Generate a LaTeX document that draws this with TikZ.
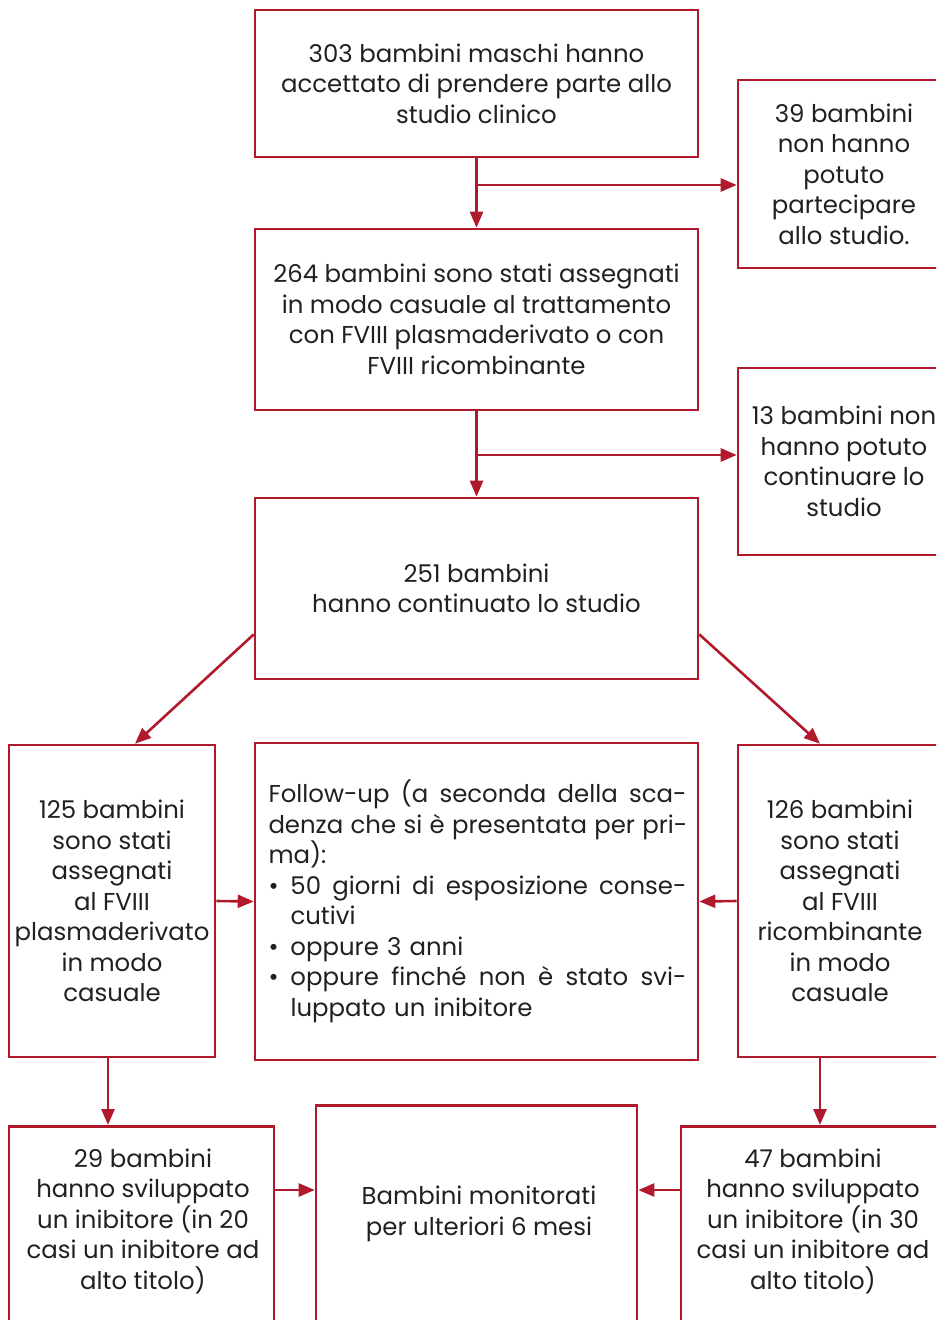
\documentclass[tikz,border=0pt]{standalone}
\usepackage{fontspec}
\setmainfont{Poppins}
\usetikzlibrary{arrows.meta,calc}
\definecolor{bordo}{HTML}{B11A2C}
\definecolor{testo}{HTML}{231F20}
% one justified line of the given width
\newcommand{\riga}[2]{\makebox[#1][s]{\spaceskip=0.3em plus 1fil\relax #2}}

\begin{document}
\begin{tikzpicture}[x=0.5pt,y=-0.5pt,line width=1.3pt,
  font=\fontsize{12.2pt}{15.25pt}\selectfont,text=testo,
  box/.style={draw=bordo,inner sep=0pt,align=center},
  txt/.style={inner sep=0pt,align=center},
  arr/.style={draw=bordo,-{Triangle[length=8pt,width=6.5pt]}}]
  \useasboundingbox (0,0) rectangle (936,1320);
  \clip (0,0) rectangle (936,1320);

  \node[box,minimum width=221.5pt,minimum height=73.5pt] (top) at (476.5,83.5)
    {303 bambini maschi hanno\\accettato di prendere parte allo\\studio clinico};
  \node[box,minimum width=106pt,minimum height=94pt] (out1) at (844,174)
    {39 bambini\\non hanno\\potuto\\partecipare\\allo studio.};
  \node[box,minimum width=221.5pt,minimum height=90.5pt] (rand) at (476.5,319.5)
    {264 bambini sono stati assegnati\\in modo casuale al trattamento\\con FVIII plasmaderivato o con\\FVIII ricombinante};
  \node[box,minimum width=106pt,minimum height=93.5pt] (out2) at (844,461.5)
    {13 bambini non\\hanno potuto\\continuare lo\\studio};
  \node[box,minimum width=221.5pt,minimum height=90.5pt] (cont) at (476.5,588.5)
    {251 bambini\\hanno continuato lo studio};

  \node[box,minimum width=103pt,minimum height=156pt] (plasma) at (112,901)
    {125 bambini\\sono stati\\assegnati\\al FVIII\\plasmaderivato\\in modo\\casuale};
  \node[box,minimum width=221.5pt,minimum height=158.5pt] (follow) at (476.5,901.5) {};
  \node[txt,align=left,text width=209pt] (followtxt) at (477.5,901.5)
    {\riga{209pt}{Follow-up (a seconda della sca-}\\
     \riga{209pt}{denza che si è presentata per pri-}\\
     ma):\\
     \makebox[11pt][l]{\textbullet}\riga{198pt}{50 giorni di esposizione conse-}\\
     \hspace*{11pt}cutivi\\
     \makebox[11pt][l]{\textbullet}oppure 3 anni\\
     \makebox[11pt][l]{\textbullet}\riga{198pt}{oppure finché non è stato svi-}\\
     \hspace*{11pt}luppato un inibitore};
  \node[box,minimum width=102pt,minimum height=156pt] (ricomb) at (840,901)
    {126 bambini\\sono stati\\assegnati\\al FVIII\\ricombinante\\in modo\\casuale};

  % boxes of the last row run off the page
  \node[box,anchor=north,minimum width=132.5pt,minimum height=120pt] (inibA) at (141.5,1125) {};
  \node[txt] (inibAtxt) at (143,1221)
    {29 bambini\\hanno sviluppato\\un inibitore (in 20\\casi un inibitore ad\\alto titolo)};
  \node[box,anchor=north,minimum width=160.5pt,minimum height=130pt] (monit) at (476.5,1104) {};
  \node[txt] (monittxt) at (479,1214) {Bambini monitorati\\per ulteriori 6 mesi};
  \node[box,anchor=north,minimum width=132pt,minimum height=120pt] (inibB) at (813,1125) {};
  \node[txt] (inibBtxt) at (813,1221)
    {47 bambini\\hanno sviluppato\\un inibitore (in 30\\casi un inibitore ad\\alto titolo)};

  \coordinate (b1) at (476.5,185);
  \coordinate (b2) at (476.5,455);
  \draw[arr] (top) -- (rand);
  \draw[arr] (b1) -- (b1 -| out1.west);
  \draw[arr] (rand) -- (cont);
  \draw[arr] (b2) -- (b2 -| out2.west);

  \draw[arr] ($(cont.west)!0.5!(cont.south west)$) -- ([xshift=11.5pt]plasma.north);
  \draw[arr] ($(cont.east)!0.5!(cont.south east)$) -- ([xshift=-10pt]ricomb.north);
  \draw[arr] (plasma.east) -- (follow.west);
  \draw[arr] (ricomb.west) -- (follow.east);

  \draw[arr] ([xshift=-2pt]plasma.south) -- ([xshift=-2pt]plasma.south |- inibA.north);
  \draw[arr] ([xshift=-10pt]ricomb.south) -- ([xshift=-10pt]ricomb.south |- inibB.north);
  \draw[arr] ([yshift=-32.5pt]inibA.north east) -- ([yshift=-32.5pt]inibA.north east -| monit.west);
  \draw[arr] ([yshift=-32.5pt]inibB.north west) -- ([yshift=-32.5pt]inibB.north west -| monit.east);
\end{tikzpicture}
\end{document}
